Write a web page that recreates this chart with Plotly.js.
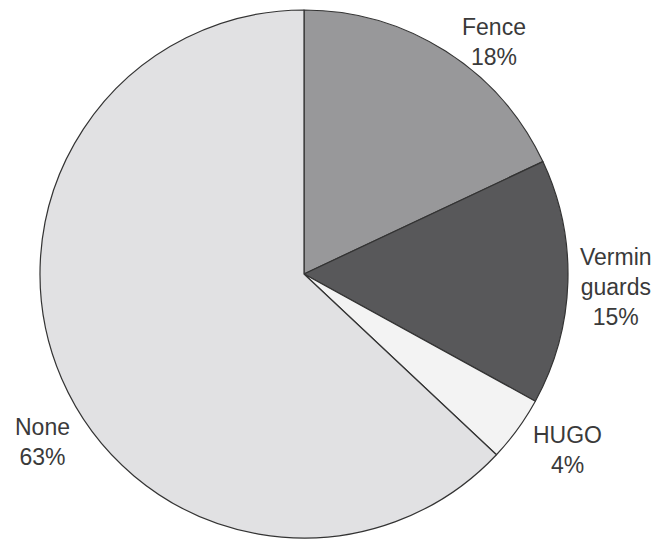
<!DOCTYPE html>
<html><head><meta charset="utf-8">
<script src="https://cdn.plot.ly/plotly-3.0.1.min.js"></script>
<style>html,body{margin:0;padding:0;background:#fff}#chart{width:668px;height:539px}</style>
</head><body><div id="chart"></div>
<script>
const labels = ["Fence", "Vermin<br>guards", "HUGO", "None"];
const values = [18, 15, 4, 63];
const colors = ["#98989a", "#58585a", "#f3f3f3", "#e1e1e3"];
const labelPos = [[494, 42], [616, 287], [567, 450], [43, 442]];

const W = 668, H = 539, cx = 304, cy = 274, R = 264;
const trace = {
  type: "pie",
  values: values,
  labels: labels,
  sort: false,
  direction: "clockwise",
  rotation: 0,
  marker: {colors: colors, line: {color: "#333", width: 1.2}},
  textinfo: "none",
  hoverinfo: "none",
  showlegend: false,
  domain: {x: [(cx - R) / W, (cx + R) / W], y: [(H - cy - R) / H, (H - cy + R) / H]}
};
const annotations = labels.map((l, i) => ({
  x: labelPos[i][0] / W, y: 1 - labelPos[i][1] / H, xref: "paper", yref: "paper",
  text: l + "<br>" + values[i] + "%", showarrow: false, xanchor: "center", yanchor: "middle",
  font: {family: "Liberation Sans, Arial, sans-serif", size: 23, color: "#3a3a3a"}
}));
Plotly.newPlot("chart", [trace], {
  width: W, height: H, margin: {l: 0, r: 0, t: 0, b: 0},
  paper_bgcolor: "#fff", annotations: annotations
}, {staticPlot: true});
</script></body></html>
